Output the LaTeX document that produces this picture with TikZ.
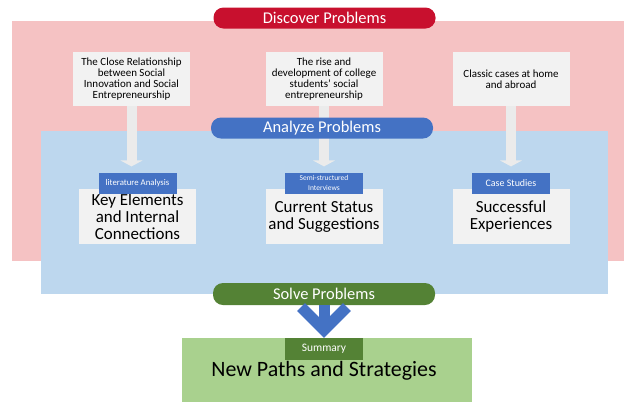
\documentclass[tikz,border=0pt]{standalone}
\usepackage{fontspec}
\setmainfont{Carlito}
\usetikzlibrary{arrows.meta}
\usetikzlibrary{positioning}
\definecolor{pinkbg}{HTML}{F5C2C3}
\definecolor{bluebg}{HTML}{BDD7EE}
\definecolor{discred}{HTML}{C8102E}
\definecolor{anablue}{HTML}{4472C4}
\definecolor{solvegreen}{HTML}{548235}
\definecolor{greenbg}{HTML}{A9D18E}
\definecolor{boxgray}{HTML}{F2F2F2}
\definecolor{arrowgray}{HTML}{EBEBEB}

\begin{document}
\begin{tikzpicture}[x=1bp,y=-1bp]
\tikzset{pill/.style={rounded corners=10bp,minimum width=222bp,minimum height=21bp,inner sep=0pt,text=white,font=\fontsize{16.5}{18}\selectfont},
topbox/.style={fill=boxgray,minimum width=117bp,minimum height=54bp,align=center,inner sep=0pt,font=\fontsize{11}{10.8}\selectfont},
midbox/.style={fill=boxgray,minimum width=117bp,minimum height=55bp,align=center,inner sep=0pt,font=\fontsize{17}{17}\selectfont},
methodtag/.style={fill=anablue,minimum width=78bp,minimum height=21bp,align=center,inner sep=0pt,text=white},
grayarrow/.style={draw=arrowgray,line width=10bp,-{Triangle[length=6bp,width=22bp]},shorten >=6bp},
bluearrow/.style={draw=anablue,line width=11bp,miter limit=4}}
\useasboundingbox (0,0) rectangle (624,402);
% background panels
\fill[pinkbg] (12,21) rectangle (624,261);
\fill[bluebg] (41,131) rectangle (608,294);
\fill[greenbg] (182,338) rectangle (472,402);
% top boxes
\node[topbox](t1) at (131.5,79) {The Close Relationship\\between Social\\Innovation and Social\\Entrepreneurship};
\node[topbox](t2) at (324,79) {The rise and\\development of college\\students' social\\entrepreneurship};
\node[topbox](t3) at (511,79) {Classic cases at home\\and abroad};
% result boxes
\node[midbox](b1) at (137.5,216.5) {Key Elements\\and Internal\\Connections};
\node[midbox](b2) at (324,216.5) {Current Status\\and Suggestions};
\node[midbox](b3) at (511,216.5) {Successful\\Experiences};
\node[methodtag,font=\fontsize{8.8}{10}\selectfont](l1)[above=-5bp of b1.north]{literature Analysis};
\node[methodtag,font=\fontsize{7.5}{9.5}\selectfont](l2)[above=-5bp of b2.north]{Semi-structured\\Interviews};
\node[methodtag,font=\fontsize{10}{11}\selectfont](l3)[above=-5bp of b3.north]{Case Studies};
\draw[grayarrow](t1) -- (t1 |- l1.north);
\draw[grayarrow](t2) -- (l2);
\draw[grayarrow](t3) -- (l3);
% stage pills
\node[pill,fill=discred](disc) at (324.5,18) {Discover Problems};
\node[pill,fill=anablue](ana) at (322,128) {Analyze Problems};
\node[pill,fill=solvegreen,minimum height=22bp](solve) at (324,294) {Solve Problems};
% summary
\node[fill=solvegreen,minimum width=78bp,minimum height=22bp,inner sep=0pt,text=white,font=\fontsize{11.5}{12}\selectfont](sum) at (324,349) {Summary};
\node[font=\fontsize{22}{24}\selectfont](paths)[below=-2bp of sum]{New Paths and Strategies};
\coordinate (tip) at (324,330);
\draw[bluearrow](solve) -- (tip);
\draw[bluearrow](tip) ++(-23,-23) -- (tip) -- ++(23,-23);
\end{tikzpicture}
\end{document}
